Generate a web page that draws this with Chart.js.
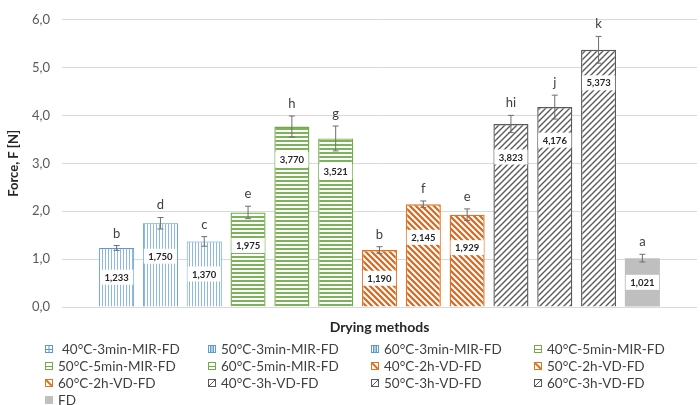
<!DOCTYPE html>
<html>
<head>
<meta charset="utf-8">
<script src="https://cdn.jsdelivr.net/npm/chart.js@4.4.1/dist/chart.umd.min.js"></script>
<style>
  html, body { margin: 0; padding: 0; background: #fff; }
</style>
</head>
<body>
<canvas id="chart" width="700" height="405"></canvas>
<script>
// one category, 13 drying methods as series
const methods = [
  ' 40°C-3min-MIR-FD', '50°C-3min-MIR-FD', '60°C-3min-MIR-FD', '40°C-5min-MIR-FD',
  '50°C-5min-MIR-FD', '60°C-5min-MIR-FD', '40°C-2h-VD-FD', '50°C-2h-VD-FD',
  '60°C-2h-VD-FD', '40°C-3h-VD-FD', '50°C-3h-VD-FD', '60°C-3h-VD-FD', 'FD'
];
const forces = [1.233, 1.750, 1.370, 1.975, 3.770, 3.521, 1.190, 2.145, 1.929, 3.823, 4.176, 5.373, 1.021];
const errors = [0.05, 0.12, 0.10, 0.13, 0.22, 0.26, 0.07, 0.07, 0.12, 0.18, 0.25, 0.28, 0.08];
const letters = ['b', 'd', 'c', 'e', 'h', 'g', 'b', 'f', 'e', 'hi', 'j', 'k', 'a'];
const yTicks = [0, 1, 2, 3, 4, 5, 6];

const FONT = "Lato, sans-serif";

// fill style per method
const kinds = ['vert', 'vert', 'vert', 'horiz', 'horiz', 'horiz', 'back', 'back', 'back', 'fwd', 'fwd', 'fwd', 'solid'];
const borderColors = { vert: '#5B9BD5', horiz: '#70AD47', back: '#E2731F', fwd: '#595959', solid: '#BFBFBF' };

function makePattern(kind) {
  const c = document.createElement('canvas');
  const x = c.getContext('2d');
  if (kind === 'vert') {
    c.width = 3; c.height = 3;
    x.fillStyle = '#fff'; x.fillRect(0, 0, 3, 3);
    x.fillStyle = '#8DB8E6'; x.fillRect(0, 0, 1, 3);
  } else if (kind === 'horiz') {
    c.width = 4; c.height = 4;
    x.fillStyle = '#fff'; x.fillRect(0, 0, 4, 4);
    x.fillStyle = '#7CB35A'; x.fillRect(0, 0, 4, 2);
  } else if (kind === 'back' || kind === 'fwd') {
    const s = 6;
    c.width = s; c.height = s;
    x.fillStyle = '#fff'; x.fillRect(0, 0, s, s);
    x.strokeStyle = kind === 'back' ? '#D9661E' : '#5a5a5a';
    x.lineWidth = kind === 'back' ? 2.2 : 1.4;
    x.beginPath();
    if (kind === 'back') {
      x.moveTo(-1, -1); x.lineTo(s + 1, s + 1);
      x.moveTo(-1, s - 1); x.lineTo(1, s + 1);
      x.moveTo(s - 1, -1); x.lineTo(s + 1, 1);
    } else {
      x.moveTo(-1, s + 1); x.lineTo(s + 1, -1);
      x.moveTo(-1, 1); x.lineTo(1, -1);
      x.moveTo(s - 1, s + 1); x.lineTo(s + 1, s - 1);
    }
    x.stroke();
  } else {
    return '#BFBFBF';
  }
  return x.createPattern(c, 'repeat');
}

const fmt = (v, d) => v.toFixed(d).replace('.', ',');

const datasets = methods.map((m, i) => ({
  label: m,
  data: [forces[i]],
  backgroundColor: makePattern(kinds[i]),
  borderColor: borderColors[kinds[i]],
  borderWidth: kinds[i] === 'solid' ? 0 : (kinds[i] === 'vert' ? 1 : 1.4),
  categoryPercentage: 0.897,
  barPercentage: 0.8
}));

const overlay = {
  id: 'overlay',
  afterDatasetsDraw(chart) {
    const ctx = chart.ctx;
    const y = chart.scales.y;
    ctx.save();
    chart.data.datasets.forEach((ds, i) => {
      const bar = chart.getDatasetMeta(i).data[0];
      const cx = bar.x;
      const top = y.getPixelForValue(forces[i] + errors[i]);
      const bot = y.getPixelForValue(forces[i] - errors[i]);
      // error bar
      ctx.strokeStyle = '#6e6e6e';
      ctx.lineWidth = 1;
      ctx.beginPath();
      ctx.moveTo(cx, top); ctx.lineTo(cx, bot);
      ctx.moveTo(cx - 3, top); ctx.lineTo(cx + 3, top);
      ctx.moveTo(cx - 3, bot); ctx.lineTo(cx + 3, bot);
      ctx.stroke();
      // value label
      const ly = Math.min((bar.y + bar.base) / 2, bar.y + 33);
      ctx.font = "bold 9.5px " + FONT;
      const txt = fmt(forces[i], 3);
      const w = ctx.measureText(txt).width + 9;
      ctx.fillStyle = '#fff';
      ctx.fillRect(cx - w / 2, ly - 7.5, w, 15);
      ctx.fillStyle = '#262626';
      ctx.textAlign = 'center';
      ctx.textBaseline = 'middle';
      ctx.fillText(txt, cx, ly + 0.5);
      // significance letter
      ctx.font = "13px " + FONT;
      ctx.fillStyle = '#404040';
      ctx.textBaseline = 'alphabetic';
      ctx.fillText(letters[i], cx, top - 8);
    });
    ctx.restore();
  },
  afterDraw(chart) {
    const ctx = chart.ctx;
    ctx.save();
    ctx.font = "13.5px " + FONT;
    ctx.textBaseline = 'middle';
    ctx.textAlign = 'left';
    methods.forEach((m, i) => {
      const col = i % 4, row = Math.floor(i / 4);
      const bx = 45 + col * 163, by = 349 + row * 17;
      const k = kinds[i];
      const col1 = borderColors[k];
      ctx.lineWidth = 1;
      ctx.strokeStyle = col1;
      if (k === 'solid') {
        ctx.fillStyle = '#BFBFBF';
        ctx.fillRect(bx, by - 4, 8, 8);
      } else {
        ctx.strokeRect(bx + 0.5, by - 3.5, 7, 7);
        ctx.beginPath();
        if (k === 'vert') {
          ctx.moveTo(bx + 4, by - 4); ctx.lineTo(bx + 4, by + 4);
          if (i === 0) { ctx.moveTo(bx, by + 0.5); ctx.lineTo(bx + 8, by + 0.5); }
          else { ctx.moveTo(bx + 2.5, by - 4); ctx.lineTo(bx + 2.5, by + 4); ctx.moveTo(bx + 5.5, by - 4); ctx.lineTo(bx + 5.5, by + 4); }
        } else if (k === 'horiz') {
          ctx.moveTo(bx, by + 0.5); ctx.lineTo(bx + 8, by + 0.5);
        } else if (k === 'back') {
          ctx.lineWidth = 2;
          ctx.moveTo(bx + 1, by - 3); ctx.lineTo(bx + 7, by + 3);
        } else {
          ctx.moveTo(bx + 1, by + 3); ctx.lineTo(bx + 7, by - 3);
        }
        ctx.stroke();
      }
      ctx.fillStyle = '#404040';
      ctx.fillText(m.trim(), bx + (i === 0 ? 17 : 13), by + 0.5);
    });
    ctx.restore();
  }
};

new Chart(document.getElementById('chart'), {
  type: 'bar',
  data: { labels: [''], datasets: datasets },
  options: {
    responsive: false,
    animation: false,
    devicePixelRatio: 1,
    layout: { padding: { left: 0, right: 3, top: 17, bottom: 68 } },
    plugins: { legend: { display: false }, tooltip: { enabled: false } },
    scales: {
      x: {
        ticks: { display: false },
        grid: { display: false },
        border: { display: false },
        title: { display: true, text: 'Drying methods', color: '#262626', font: { family: FONT, size: 14, weight: 'bold' }, padding: { top: 0, bottom: 1 } },
        afterFit(s) { s.height = 30; }
      },
      y: {
        min: 0, max: 6,
        afterBuildTicks(s) { s.ticks = yTicks.map(v => ({ value: v })); },
        ticks: { color: '#595959', padding: 12, font: { family: FONT, size: 13 }, callback: v => fmt(v, 1) },
        grid: { color: '#D9D9D9', drawTicks: false },
        border: { display: false },
        title: { display: true, text: 'Force, F [N]', color: '#262626', font: { family: FONT, size: 13, weight: 'bold' }, padding: { top: 6, bottom: 0 } },
        afterFit(s) { s.width = 62; }
      }
    }
  },
  plugins: [overlay]
});
</script>
</body>
</html>
